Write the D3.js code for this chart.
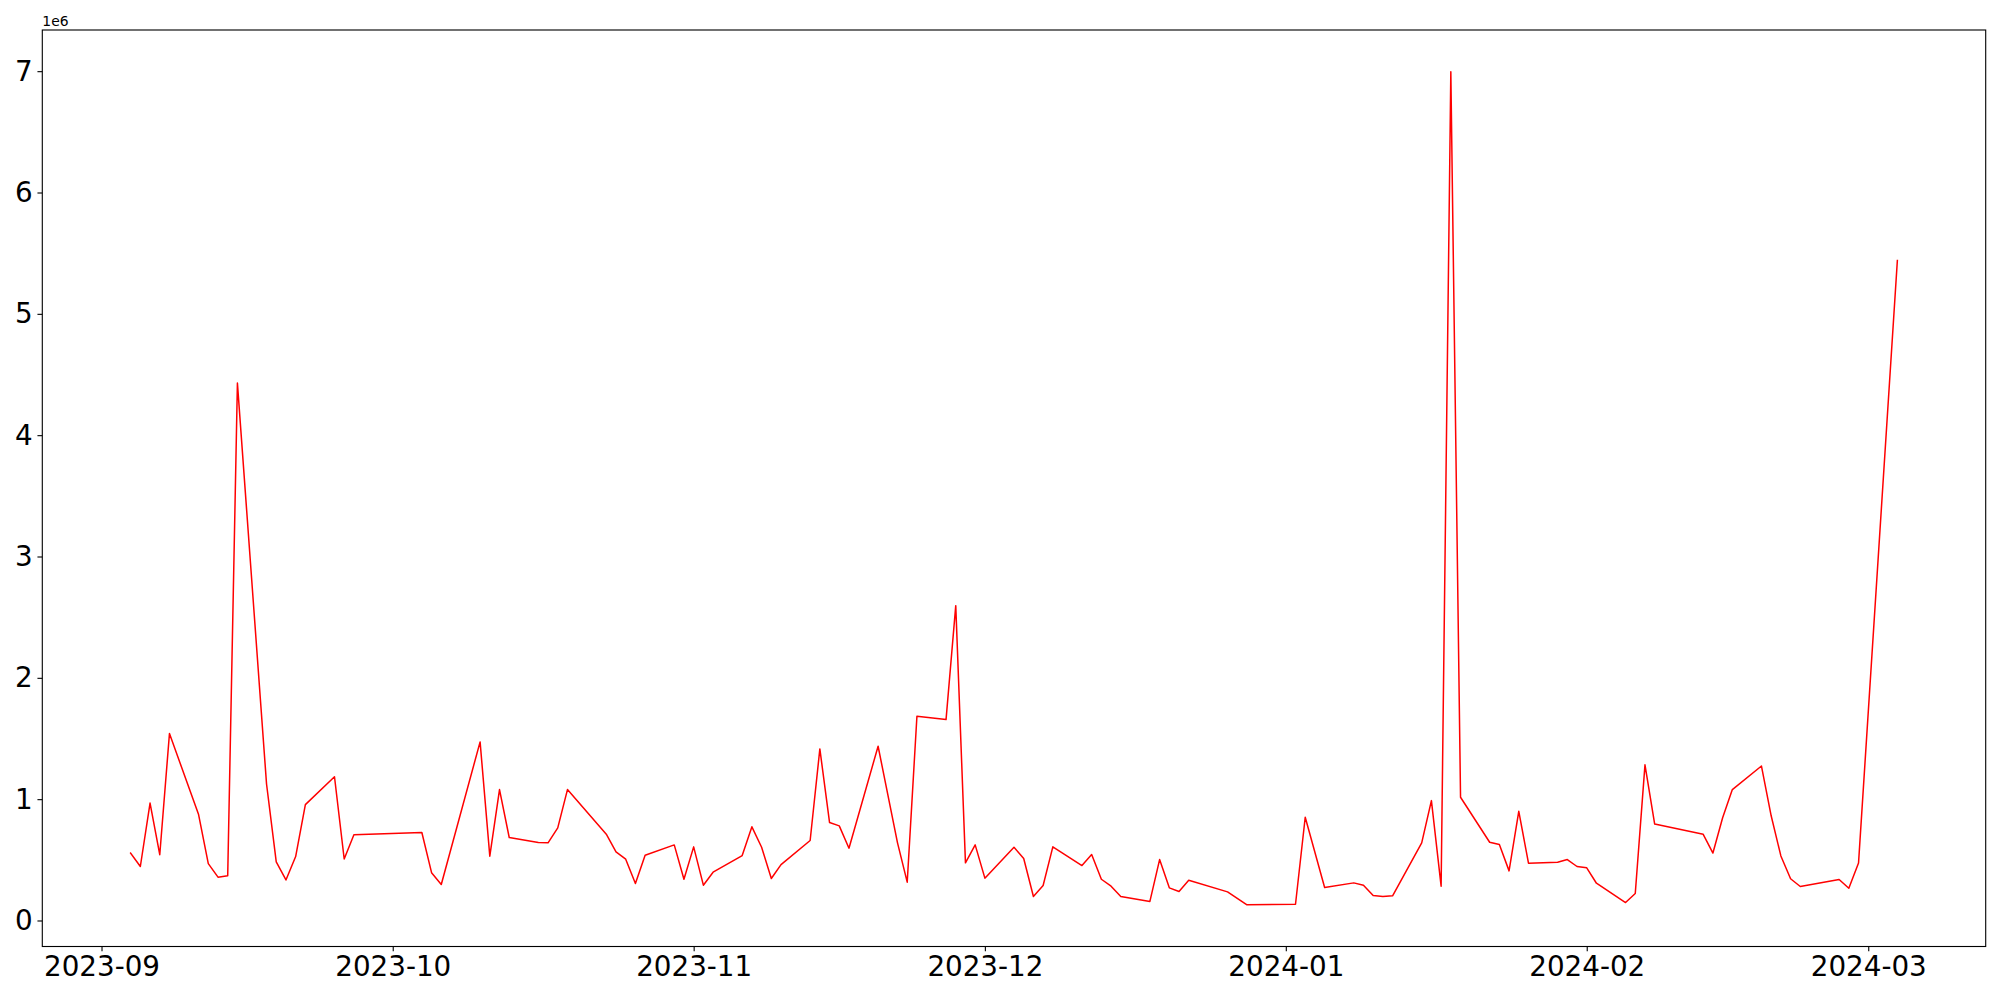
<!DOCTYPE html>
<html>
<head>
<meta charset="utf-8">
<script src="https://cdn.jsdelivr.net/npm/d3@7"></script>
<style>
  html, body { margin: 0; padding: 0; background: #fff; }
  svg { display: block; }
  text { font-family: "DejaVu Sans", sans-serif; fill: #000; }
</style>
</head>
<body>
<svg id="chart" width="2000" height="1000"></svg>
<script>
// ---- data ----
const dates = [
  "2023-09-04","2023-09-05","2023-09-06","2023-09-07","2023-09-08",
  "2023-09-11","2023-09-12","2023-09-13","2023-09-14","2023-09-15",
  "2023-09-18","2023-09-19","2023-09-20","2023-09-21","2023-09-22",
  "2023-09-25","2023-09-26","2023-09-27",
  "2023-10-04","2023-10-05","2023-10-06",
  "2023-10-10","2023-10-11","2023-10-12","2023-10-13",
  "2023-10-16","2023-10-17","2023-10-18","2023-10-19",
  "2023-10-23","2023-10-24","2023-10-25","2023-10-26","2023-10-27",
  "2023-10-30","2023-10-31","2023-11-01","2023-11-02","2023-11-03",
  "2023-11-06","2023-11-07","2023-11-08","2023-11-09","2023-11-10",
  "2023-11-13","2023-11-14","2023-11-15","2023-11-16","2023-11-17",
  "2023-11-20","2023-11-22","2023-11-23","2023-11-24",
  "2023-11-27","2023-11-28","2023-11-29","2023-11-30","2023-12-01",
  "2023-12-04","2023-12-05","2023-12-06","2023-12-07","2023-12-08",
  "2023-12-11","2023-12-12","2023-12-13","2023-12-14","2023-12-15",
  "2023-12-18","2023-12-19","2023-12-20","2023-12-21","2023-12-22",
  "2023-12-26","2023-12-28",
  "2024-01-02","2024-01-03","2024-01-05",
  "2024-01-08","2024-01-09","2024-01-10","2024-01-11","2024-01-12",
  "2024-01-15","2024-01-16","2024-01-17","2024-01-18","2024-01-19",
  "2024-01-22","2024-01-23","2024-01-24","2024-01-25","2024-01-26",
  "2024-01-29","2024-01-30","2024-01-31","2024-02-01","2024-02-02",
  "2024-02-05","2024-02-06","2024-02-07","2024-02-08",
  "2024-02-13","2024-02-14","2024-02-15","2024-02-16",
  "2024-02-19","2024-02-20","2024-02-21","2024-02-22","2024-02-23",
  "2024-02-27","2024-02-28","2024-02-29",
  "2024-03-04"
];
const values = [
  555000, 445000, 968000, 542000, 1541000,
  873000, 469000, 357000, 369000, 4429000,
  1125000, 483000, 334000, 527000, 955000,
  1185000, 507000, 706000,
  725000, 394000, 297000,
  1472000, 530000, 1079000, 684000,
  642000, 640000, 763000, 1079000,
  711000, 566000, 505000, 305000, 538000,
  623000, 340000, 607000, 291000, 398000,
  535000, 772000, 604000, 346000, 461000,
  659000, 1414000, 807000, 780000, 596000,
  1436000, 640000, 316000, 1683000,
  1656000, 2595000, 475000, 623000, 349000,
  604000, 511000, 198000, 288000, 607000,
  453000, 544000, 340000, 283000, 198000,
  157000, 502000, 269000, 239000, 332000,
  236000, 129000,
  134000, 851000, 272000,
  310000, 291000, 206000, 198000, 203000,
  640000, 988000, 283000, 6996000, 1016000,
  645000, 626000, 409000, 900000, 472000,
  480000, 502000, 445000, 434000, 307000,
  148000, 222000, 1283000, 795000,
  710000, 556000, 847000, 1079000,
  1273000, 863000, 532000, 344000, 280000,
  338000, 266000, 474000,
  5440000
];
const yTicks = [0, 1000000, 2000000, 3000000, 4000000, 5000000, 6000000, 7000000];
const xTicks = ["2023-09-01","2023-10-01","2023-11-01","2023-12-01","2024-01-01","2024-02-01","2024-03-01"];
const offsetLabel = "1e6";

// ---- layout ----
const W = 2000, H = 1000;
const m = { left: 42.3, right: 2000 - 1985.7, top: 30, bottom: 1000 - 946.5 };
const iw = W - m.left - m.right, ih = H - m.top - m.bottom;
const parse = d3.utcParse("%Y-%m-%d");
const data = dates.map((d, i) => ({ t: parse(d), v: values[i] }));

const tExt = d3.extent(data, d => d.t);
const tPad = (tExt[1] - tExt[0]) * 0.05;
const vExt = d3.extent(data, d => d.v);
const vPad = (vExt[1] - vExt[0]) * 0.05;

const x = d3.scaleUtc()
  .domain([new Date(+tExt[0] - tPad), new Date(+tExt[1] + tPad)])
  .range([0, iw]);
const y = d3.scaleLinear()
  .domain([vExt[0] - vPad, vExt[1] + vPad])
  .range([ih, 0]);

const svg = d3.select("#chart");
const g = svg.append("g").attr("transform", `translate(${m.left},${m.top})`);

const FS = 27.78;
const tickLen = 4.86, tickPad = 4.86;

// line
const line = d3.line().x(d => x(d.t)).y(d => y(d.v));
g.append("path")
  .datum(data)
  .attr("fill", "none")
  .attr("stroke", "#ff0000")
  .attr("stroke-width", 1.5)
  .attr("stroke-linejoin", "round")
  .attr("stroke-linecap", "square")
  .attr("d", line);

// axes
const xAxis = d3.axisBottom(x)
  .tickValues(xTicks.map(parse))
  .tickFormat(d3.utcFormat("%Y-%m"))
  .tickSize(tickLen).tickPadding(tickPad);
const gx = g.append("g").attr("transform", `translate(0,${ih})`).call(xAxis);
gx.select(".domain").remove();
gx.selectAll("line").attr("stroke", "#000").attr("stroke-width", 1.11);
gx.selectAll("text").attr("font-size", FS).attr("font-family", "DejaVu Sans, sans-serif");

const yAxis = d3.axisLeft(y)
  .tickValues(yTicks)
  .tickFormat(d => String(d / 1e6))
  .tickSize(tickLen).tickPadding(tickPad);
const gy = g.append("g").call(yAxis);
gy.select(".domain").remove();
gy.selectAll("line").attr("stroke", "#000").attr("stroke-width", 1.11);
gy.selectAll("text").attr("font-size", FS).attr("font-family", "DejaVu Sans, sans-serif");

// frame
g.append("rect")
  .attr("x", 0).attr("y", 0).attr("width", iw).attr("height", ih)
  .attr("fill", "none").attr("stroke", "#000").attr("stroke-width", 1.11);

// offset text
svg.append("text")
  .attr("x", m.left).attr("y", m.top - 4)
  .attr("font-size", 13.9)
  .text(offsetLabel);
</script>
</body>
</html>
